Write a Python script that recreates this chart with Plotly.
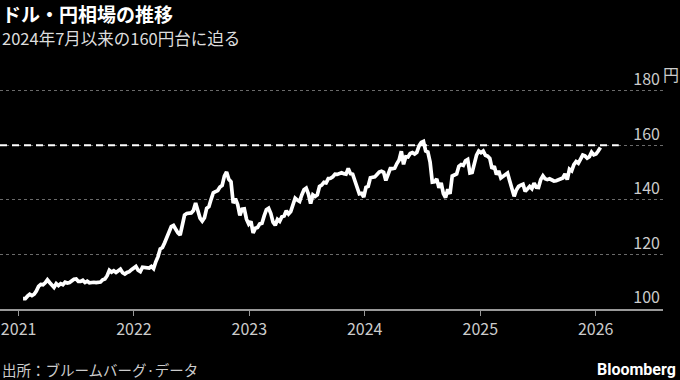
import pandas as pd
import plotly.graph_objects as go

# Weekly USD/JPY readings (Fridays), starting 2021-01-15
start_date = "2021-01-15"
usdjpy = [
    # 2021
    103.8, 103.8, 104.7,
    105.4, 104.9, 105.4, 106.6,
    108.3, 109.0, 108.9, 109.6,
    110.7, 109.7, 108.8, 107.9, 109.3,
    108.6, 109.3, 108.9, 109.8,
    109.5, 109.7, 110.2, 110.9,
    111.0, 110.1, 110.1, 110.5, 109.7,
    110.2, 109.6, 109.8, 109.8,
    109.7, 109.9, 109.9, 110.7,
    111.0, 112.2, 114.2, 113.5, 114.0,
    113.4, 113.9, 114.6, 113.3,
    112.8, 113.4, 113.7, 114.4, 115.1,
    # 2022
    115.6, 114.2, 113.7, 115.3,
    115.2, 115.4, 115.0, 115.6,
    114.8, 117.3, 119.2, 122.0,
    122.5, 124.3, 126.4, 128.4, 130.2,
    130.6, 129.2, 127.9, 127.1,
    130.9, 134.4, 135.0, 135.2,
    135.2, 136.1, 138.8, 136.1, 133.3,
    132.2, 133.4, 136.9, 137.5,
    140.2, 142.6, 143.0, 143.4, 144.7,
    145.3, 148.7, 150.2, 147.5,
    146.6, 138.8, 140.4, 138.3,
    134.3, 136.6, 136.7, 132.9, 131.1,
    # 2023
    132.1, 127.9, 129.6, 129.9,
    131.2, 131.4, 134.1, 136.4,
    136.9, 135.0, 131.8, 130.7, 132.8,
    132.1, 133.8, 134.1, 136.0,
    134.8, 135.7, 138.0, 140.6,
    139.9, 139.4, 141.8, 143.7, 144.3,
    142.1, 138.6, 141.8, 141.2,
    141.8, 144.9, 145.4, 146.4,
    146.2, 147.8, 147.9, 148.4, 149.4,
    149.3, 149.6, 149.9, 149.6,
    149.4, 151.5, 149.6, 149.4,
    146.8, 144.9, 142.2, 142.4, 141.0,
    # 2024
    144.6, 144.9, 148.1, 148.2,
    148.4, 149.3, 150.2, 150.5,
    150.1, 147.1, 149.1, 151.4, 151.4,
    151.6, 153.3, 154.6, 157.8,
    153.0, 155.8, 155.7, 157.0, 157.3,
    156.8, 157.4, 159.8, 161.0,
    161.4, 157.9, 157.5, 153.8,
    146.5, 146.6, 147.7, 144.4, 146.2,
    142.3, 140.8, 143.9, 142.2,
    148.7, 149.1, 149.5, 152.3,
    152.9, 152.6, 154.3, 154.8, 149.8,
    150.0, 153.6, 156.4, 157.9,
    # 2025
    157.3, 157.9, 156.3, 156.0, 155.2,
    151.4, 152.3, 149.3, 150.6,
    148.0, 148.6, 149.3, 149.8,
    146.9, 143.5, 141.3, 143.6,
    144.9, 145.4, 145.7, 143.1, 143.9,
    144.9, 144.1, 146.1, 144.6,
    144.5, 147.4, 148.8, 147.7,
    147.4, 147.7, 147.2, 146.9, 147.0,
    147.4, 147.7, 148.0, 149.5,
    147.4, 151.2, 150.6, 152.9, 154.0,
    153.4, 154.6, 156.4, 156.1,
    155.3, 155.8, 157.5, 156.5,
    # 2026
    156.8, 157.9, 159.2,
]
dates = pd.date_range(start=start_date, periods=len(usdjpy), freq="W-FRI")

x_range = ["2020-11-03", "2026-08-02"]
year_ticks = ["2021-01-01", "2022-01-01", "2023-01-01", "2024-01-01", "2025-01-01", "2026-01-01"]
year_labels = ["2021", "2022", "2023", "2024", "2025", "2026"]
y_range = [100, 196]
y_ticks = [100, 120, 140, 160, 180]
y_labels = ["100", "120", "140", "160", "180"]
ref_level = 160
ref_end = "2026-03-15"

title = "ドル・円相場の推移"
subtitle = "2024年7月以来の160円台に迫る"
source = "出所：ブルームバーグ·データ"

FONT = "Noto Sans CJK JP, Noto Sans, sans-serif"

fig = go.Figure()
fig.add_trace(go.Scatter(
    x=dates, y=usdjpy, mode="lines",
    line=dict(color="#ffffff", width=3.7),
    hoverinfo="skip", showlegend=False,
))

fig.add_shape(type="line", xref="x", yref="y",
              x0=x_range[0], x1=ref_end, y0=ref_level, y1=ref_level,
              line=dict(color="#ffffff", width=2, dash="7px,5px"), layer="above")

# plot area: x 0..663 px, y 309 (100) up to top of range
PX_PER = 2.725
TOP = 309 - (y_range[1] - y_range[0]) * PX_PER
H = 309 - TOP
W = 663.0
def py(ypix):
    return (309 - ypix) / H

fig.update_layout(
    width=680, height=380,
    paper_bgcolor="#000000", plot_bgcolor="#000000",
    margin=dict(l=0, r=17, t=TOP, b=71, autoexpand=False),
    font=dict(family=FONT, color="#cccccc"),
    xaxis=dict(
        type="date", range=x_range,
        tickvals=year_ticks, ticktext=year_labels,
        ticks="outside", ticklen=5, tickwidth=1, tickcolor="#999999",
        showline=True, linecolor="#999999", linewidth=1.5,
        showgrid=False, zeroline=False,
        tickfont=dict(size=16, color="#cccccc", family=FONT),
    ),
    yaxis=dict(
        range=y_range, side="right",
        tickvals=y_ticks, ticktext=y_labels,
        ticklabelposition="inside top",
        ticks="", showline=False, zeroline=False,
        showgrid=True, gridcolor="#6a6a6a", griddash="dot", gridwidth=1,
        tickfont=dict(size=16, color="#cccccc", family=FONT),
    ),
    annotations=[
        dict(text="<b>" + title + "</b>", xref="paper", yref="paper",
             x=0, y=py(14), xanchor="left", yanchor="middle", showarrow=False,
             font=dict(size=19, color="#ffffff", family=FONT)),
        dict(text=subtitle, xref="paper", yref="paper",
             x=0, y=py(38), xanchor="left", yanchor="middle", showarrow=False,
             font=dict(size=16.5, color="#dddddd", family=FONT)),
        dict(text="円", xref="paper", yref="y",
             x=1, y=180, xanchor="left", yanchor="bottom", yshift=3, xshift=-2,
             showarrow=False,
             font=dict(size=16, color="#cccccc", family=FONT)),
        dict(text=source, xref="paper", yref="paper",
             x=0, y=py(369), xanchor="left", yanchor="middle", showarrow=False,
             font=dict(size=14.5, color="#cccccc", family=FONT)),
        dict(text="<b>Bloomberg</b>", xref="paper", yref="paper",
             x=678 / W, y=py(369), xanchor="right", yanchor="middle", showarrow=False,
             font=dict(size=16, color="#ffffff", family="Roboto, Arial, sans-serif")),
    ],
)

fig.write_html("out.html", config={"displayModeBar": False},
               post_script="document.body.style.margin='0';document.body.style.background='#000';")
